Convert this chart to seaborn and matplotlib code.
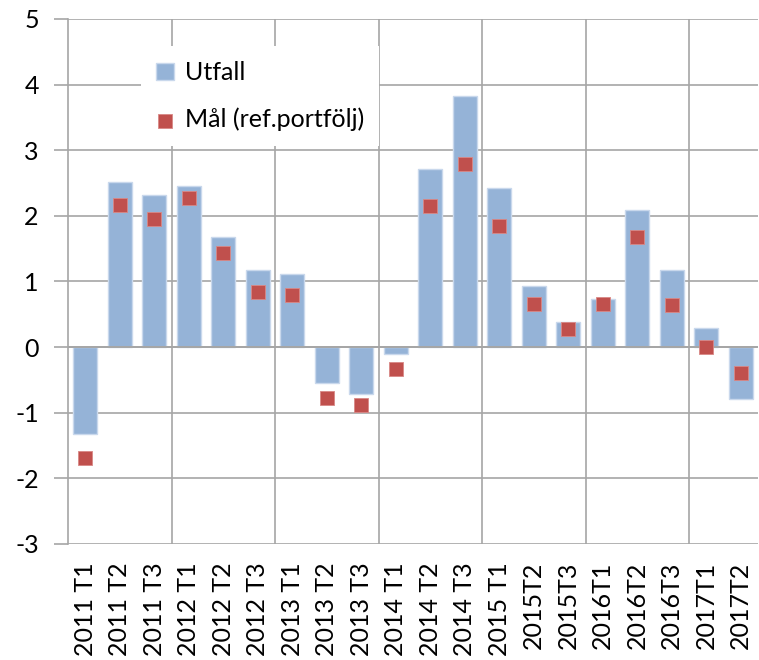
import numpy as np
import matplotlib
matplotlib.use("Agg")
import matplotlib.pyplot as plt
import seaborn as sns

# ── Data ──────────────────────────────────────────────────────────────────────
quarters = ["2011 T1", "2011 T2", "2011 T3",
            "2012 T1", "2012 T2", "2012 T3",
            "2013 T1", "2013 T2", "2013 T3",
            "2014 T1", "2014 T2", "2014 T3",
            "2015 T1", "2015T2", "2015T3",
            "2016T1", "2016T2", "2016T3",
            "2017T1", "2017T2"]

utfall = [-1.33, 2.51, 2.31, 2.46, 1.68, 1.17, 1.12, -0.54, -0.72, -0.11,
          2.72, 3.82, 2.42, 0.93, 0.38, 0.73, 2.09, 1.17, 0.29, -0.79]

mal = [-1.69, 2.17, 1.95, 2.27, 1.43, 0.84, 0.80, -0.78, -0.89, -0.34,
       2.15, 2.79, 1.84, 0.66, 0.28, 0.66, 1.68, 0.64, 0.00, -0.39]

y_ticks = list(range(-3, 6))

BAR_COLOR  = "#95B3D7"
MARK_COLOR = "#C0504D"
GRID_COLOR = "#A6A6A6"

# ── Style ─────────────────────────────────────────────────────────────────────
sns.set_style("white")
plt.rcParams["font.family"] = ["Lato", "DejaVu Sans"]
plt.rcParams["axes.unicode_minus"] = False

fig = plt.figure(figsize=(7.59, 6.60), dpi=100)
ax = fig.add_axes([0.0896, 0.1758, 0.9091, 0.7955])

sns.barplot(x=quarters, y=utfall, color=BAR_COLOR, saturation=1, width=0.7,
            edgecolor="#C9D8EC", linewidth=1, label="Utfall", ax=ax, zorder=2)
sns.stripplot(x=quarters, y=mal, jitter=False, marker="s", color=MARK_COLOR,
              size=10, linewidth=0.6, edgecolor="#D98886",
              label="Mål (ref.portfölj)", ax=ax, zorder=4)

# ── Axes & grid ───────────────────────────────────────────────────────────────
ax.set_ylim(-3, 5)
ax.set_xlim(-0.5, len(quarters) - 0.5)
ax.set_yticks(y_ticks)
ax.set_xticks(np.arange(2.5, len(quarters) - 1, 3), minor=True)

ax.grid(axis="y", which="major", color=GRID_COLOR, linewidth=1.2, zorder=0)
ax.grid(axis="x", which="minor", color=GRID_COLOR, linewidth=1.2, zorder=0)
ax.grid(axis="x", which="major", visible=False)
ax.set_axisbelow(True)
ax.axhline(0, color=GRID_COLOR, linewidth=1.4, zorder=3)

for side in ["top", "right", "bottom"]:
    ax.spines[side].set_visible(False)
ax.spines["left"].set_color(GRID_COLOR)
ax.spines["left"].set_linewidth(1.2)

ax.tick_params(axis="y", which="major", length=10, width=1.2, color=GRID_COLOR,
               direction="out", left=True, pad=11, labelsize=18, labelcolor="black")
ax.tick_params(axis="x", which="both", length=0, pad=13, labelsize=18,
               labelcolor="black")
ax.tick_params(axis="x", which="major", labelrotation=90)
ax.set_xlabel("")
ax.set_ylabel("")

# stripplot draws one collection per category, keep one entry per label
handles, labels = ax.get_legend_handles_labels()
uniq = dict(zip(labels, handles))
order = ["Utfall", "Mål (ref.portfölj)"]
leg = ax.legend([uniq[k] for k in order], order,
                loc="upper left", bbox_to_anchor=(0.088, 0.972), frameon=True,
                framealpha=1, facecolor="white", edgecolor="none", fontsize=18,
                handlelength=0.7, handleheight=0.7, handletextpad=0.45,
                labelspacing=0.95, borderpad=0.6, fancybox=False)
for t in leg.get_texts():
    t.set_color("black")

fig.savefig("out.png", dpi=100)
